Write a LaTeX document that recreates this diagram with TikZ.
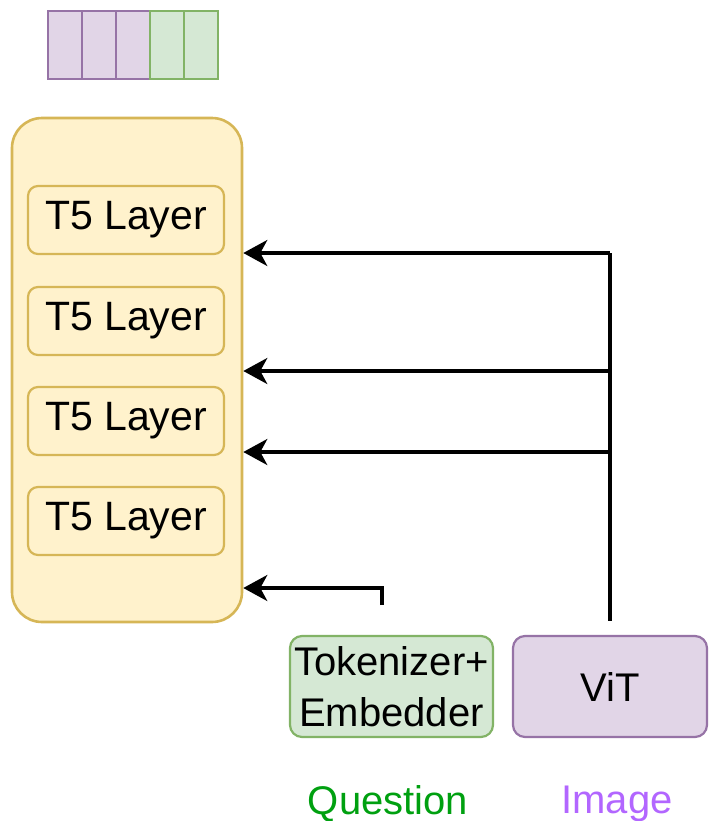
\documentclass[tikz,border=0pt]{standalone}
\usepackage{fontspec}
\setmainfont{Liberation Sans}
\usetikzlibrary{arrows.meta,positioning,calc}
\definecolor{yfill}{HTML}{FFF2CC}
\definecolor{ydraw}{HTML}{D6B656}
\definecolor{gfill}{HTML}{D5E8D4}
\definecolor{gdraw}{HTML}{82B366}
\definecolor{pfill}{HTML}{E1D5E7}
\definecolor{pdraw}{HTML}{9673A6}
\definecolor{qtext}{HTML}{00A010}
\definecolor{itext}{HTML}{B266FF}
\tikzstyle{stack}=[draw=ydraw,fill=yfill,line width=1.3pt,rounded corners=15pt,minimum width=115pt,minimum height=252pt,inner sep=0pt]
\tikzstyle{layer}=[draw=ydraw,fill=yfill,line width=1.1pt,rounded corners=5pt,minimum width=98pt,minimum height=34pt,inner sep=0pt,font=\fontsize{20.5}{24}\selectfont]
\tikzstyle{module}=[line width=1.1pt,rounded corners=6pt,minimum height=50.5pt,inner sep=0pt,align=center,font=\fontsize{20}{25.5}\selectfont]
\tikzstyle{cell}=[line width=1.3pt,minimum width=17pt,minimum height=34pt,inner sep=0pt]
\tikzstyle{edge} = [draw,line width=1.6pt,-{Stealth[length=12pt,width=13pt,inset=3.5pt]}]
\tikzstyle{plain} = [draw,line width=1.6pt]
\tikzstyle{caption} = [font=\fontsize{20}{24}\selectfont]

\begin{document}
\begin{tikzpicture}[x=0.5pt,y=-0.5pt]
\useasboundingbox (0,0) rectangle (709,821);

    % token strip
    \foreach \pos/\name in {{(65,45)/c1},{(99,45)/c2},{(133,45)/c3}}
        \node[cell,draw=pdraw,fill=pfill] (\name) at \pos {};
    \foreach \pos/\name in {{(167,45)/c4},{(201,45)/c5}}
        \node[cell,draw=gdraw,fill=gfill] (\name) at \pos {};

    % encoder stack
    \node[stack] (stack) at (127,370) {};
    \foreach \y/\name in {220/l1, 321/l2, 421/l3, 521/l4}
        \node[layer] (\name) at (126,\y) {T5 Layer};

    % inputs
    \node[module,draw=gdraw,fill=gfill,minimum width=101.5pt] (tok) at (391.5,686.5) {Tokenizer+\\Embedder};
    \node[module,draw=pdraw,fill=pfill,minimum width=97pt] (vit) at (610,686.5) {ViT};
    \node[caption,text=qtext] (question) at (388,804) {Question};
    \node[caption,text=itext] (image) at (617,804) {Image};

    % connections
    \coordinate (vtop) at (610,253);
    \draw[plain,shorten <=7pt] (vit.north) -- (vtop);
    \foreach \y/\name in {253/ta, 371/tb, 452/tc}
    {
        \coordinate (\name) at (610,\y);
        \path[edge] (\name) -- (stack.east |- \name);
    }
    \coordinate (qtap) at (382,605);
    \path[edge] (qtap) |- ($(stack.east)+(0,218)$);

\end{tikzpicture}
\end{document}
